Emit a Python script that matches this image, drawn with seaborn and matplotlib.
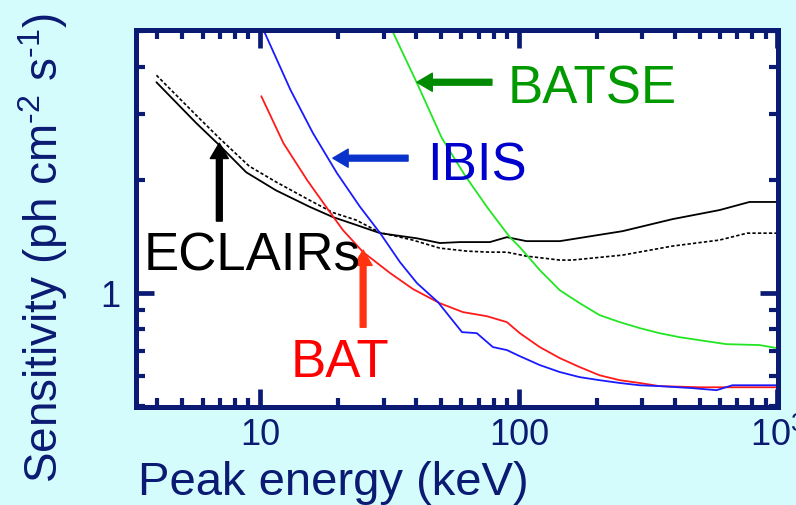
import matplotlib
matplotlib.use("Agg")
import matplotlib.pyplot as plt
import matplotlib.ticker as mticker
import numpy as np
import pandas as pd
import seaborn as sns

# ---------------- data ----------------
eclairs_e = [3.97, 5.66, 6.95, 8.83, 11.5, 15.5, 19.1, 23.5, 29.1, 40.4, 49.5, 59.2,
             77.3, 89.9, 107, 144, 153, 252, 393, 597, 780, 1000]
eclairs_s = [3.65, 2.84, 2.48, 2.10, 1.88, 1.70, 1.595, 1.52, 1.445, 1.40, 1.36, 1.368,
             1.368, 1.41, 1.376, 1.376, 1.385, 1.463, 1.575, 1.665, 1.75, 1.75]

eclairs2_e = [3.97, 5.66, 6.95, 9.07, 11.5, 15.5, 19.1, 23.5, 29.1, 38.9, 49.5, 63.2,
              77.3, 89.9, 107, 144, 161, 252, 393, 597, 763, 1000]
eclairs2_s = [3.81, 2.98, 2.59, 2.18, 1.98, 1.77, 1.64, 1.566, 1.45, 1.385, 1.318, 1.294,
              1.286, 1.286, 1.255, 1.225, 1.225, 1.263, 1.335, 1.385, 1.445, 1.445]

bat_e = [10.1, 12.3, 15.2, 18.6, 20.9, 25.0, 31.8, 39.0, 49.5, 60.8, 75.2, 89.9, 100.9,
         120.5, 144, 172, 205, 245.5, 293, 350, 500, 1000]
bat_s = [3.35, 2.51, 2.0, 1.644, 1.472, 1.286, 1.131, 1.025, 0.940, 0.890, 0.868, 0.837,
         0.782, 0.718, 0.671, 0.635, 0.604, 0.586, 0.576, 0.565, 0.561, 0.561]

ibis_e = [10.3, 13.1, 16.0, 19.8, 24.3, 29.1, 34.7, 40.4, 48.7, 60.3, 68.8, 79.4, 89.9,
          100.9, 120.5, 144, 172, 205, 245.5, 293, 350, 470, 581, 670, 1000]
ibis_s = [5.03, 3.48, 2.67, 2.09, 1.70, 1.445, 1.21, 1.063, 0.946, 0.787, 0.782, 0.718,
          0.705, 0.679, 0.643, 0.616, 0.597, 0.586, 0.576, 0.568, 0.565, 0.558, 0.551,
          0.568, 0.568]

batse_e = [32.3, 40.4, 50.4, 61.9, 75.9, 92.3, 100.9, 120.5, 144, 172, 205, 245.5, 293,
           350, 418, 500, 635, 851, 1000]
batse_s = [5.03, 3.63, 2.59, 2.06, 1.685, 1.41, 1.326, 1.152, 1.018, 0.940, 0.874, 0.837,
           0.807, 0.782, 0.763, 0.749, 0.731, 0.727, 0.713]

series_names = ["ECLAIRs", "BAT", "IBIS", "BATSE"]
xtick_values = [10, 100, 1000]
xtick_labels = ["10", "100", r"$\mathregular{10^3}$"]
ytick_values = [1]
ytick_labels = ["1"]
x_label = "Peak energy (keV)"
y_label = r"Sensitivity (ph cm$^{\text{-2}}$ s$^{\text{-1}}$)"

# ---------------- style ----------------
sns.set_style("ticks")
plt.rcParams["font.family"] = ["Liberation Sans", "DejaVu Sans"]
plt.rcParams["mathtext.fontset"] = "custom"
plt.rcParams["mathtext.rm"] = "Liberation Sans"
plt.rcParams["mathtext.it"] = "Liberation Sans:italic"
plt.rcParams["mathtext.bf"] = "Liberation Sans:bold"
plt.rcParams["xtick.labelsize"] = 26
plt.rcParams["ytick.labelsize"] = 26

NAVY = "#0b1a72"
BG = "#d4fcfc"

fig = plt.figure(figsize=(7.96, 5.05), dpi=100, facecolor=BG)
ax = fig.add_axes([136 / 796, 1 - 407 / 505, (778 - 136) / 796, (407 - 30) / 505])
ax.set_facecolor("white")

def draw(e, s, color, ls="-", lw=1.2):
    df = pd.DataFrame({"E": e, "S": s})
    sns.lineplot(data=df, x="E", y="S", ax=ax, color=color, linestyle=ls,
                 linewidth=lw, estimator=None, sort=True, legend=False)

draw(eclairs_e, eclairs_s, "black", "-", 1.3)
draw(eclairs2_e, eclairs2_s, "black", (0, (2, 1.3)), 1.2)
draw(bat_e, bat_s, "#ff1a1a", "-", 1.3)
draw(ibis_e, ibis_s, "#1a1aff", "-", 1.3)
draw(batse_e, batse_s, "#22e622", "-", 1.3)

ax.set_xscale("log")
ax.set_yscale("log")
ax.set_xlim(3.31, 1005)
ax.set_ylim(0.497, 5.03)

ax.xaxis.set_major_locator(mticker.FixedLocator(xtick_values))
ax.xaxis.set_minor_locator(mticker.LogLocator(base=10, subs=np.arange(2, 10), numticks=20))
ax.xaxis.set_minor_formatter(mticker.NullFormatter())
ax.yaxis.set_major_locator(mticker.FixedLocator(ytick_values))
ax.yaxis.set_minor_locator(mticker.LogLocator(base=10, subs=np.arange(2, 10), numticks=20))
ax.yaxis.set_minor_formatter(mticker.NullFormatter())

ax.tick_params(which="both", direction="in", top=True, right=True, color=NAVY,
               labelcolor=NAVY)
ax.tick_params(which="major", length=13, width=3.4, labelsize=26)
ax.tick_params(which="minor", length=6.5, width=3.0)
ax.tick_params(axis="x", which="major", pad=8)
ax.tick_params(axis="y", which="major", pad=11)
ax.set_xticklabels(xtick_labels, fontsize=26, color=NAVY)
ax.set_yticklabels(ytick_labels, fontsize=26, color=NAVY)

for sp in ax.spines.values():
    sp.set_color(NAVY)
    sp.set_linewidth(3.6)
    sp.set_visible(True)

ax.set_xlabel(x_label, fontsize=34, color=NAVY, va="baseline")
ax.xaxis.set_label_coords((333 - 136) / 642, -(495 - 407) / 377)
ax.set_ylabel(y_label, fontsize=33, color=NAVY)
ax.yaxis.set_label_coords((70 - 136) / 642, 1 - (248 - 30) / 377)

# ---------------- annotations ----------------
def arrow(tip, tail, color):
    ax.annotate("", xy=tip, xytext=tail,
                arrowprops=dict(facecolor=color, edgecolor=color, width=4.2,
                                headwidth=13, headlength=11, shrink=0))

arrow((40.4, 3.65), (78.7, 3.65), "#008a00")
arrow((19.1, 2.29), (37.3, 2.29), "#0a33cc")
arrow((6.95, 2.51), (6.95, 1.556), "black")
arrow((25.0, 1.302), (25.0, 0.811), "#ff3311")

ax.text(90.7, 3.21, series_names[3], color="#009900", fontsize=38, va="baseline", ha="left")
ax.text(44.1, 2.0, series_names[2], color="#0000cc", fontsize=38, va="baseline", ha="left")
ax.text(3.53, 1.152, series_names[0], color="black", fontsize=38, va="baseline", ha="left")
ax.text(13.06, 0.597, series_names[1], color="#ff0000", fontsize=38, va="baseline", ha="left")

fig.savefig("out.png", dpi=100, facecolor=BG)
